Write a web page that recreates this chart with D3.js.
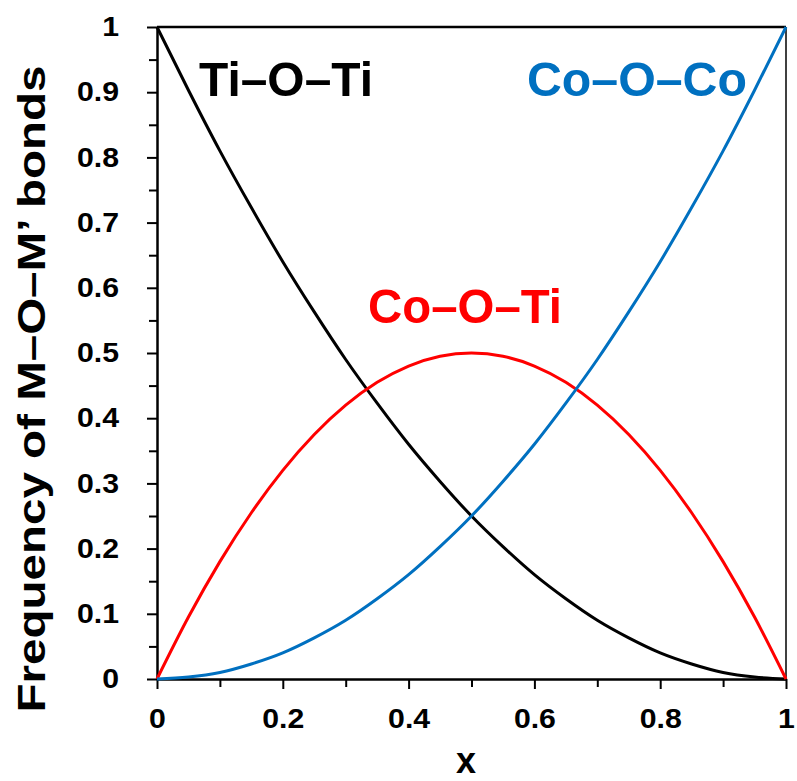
<!DOCTYPE html>
<html>
<head>
<meta charset="utf-8">
<script src="https://cdn.jsdelivr.net/npm/d3@7"></script>
<style>
  body { margin: 0; background: #fff; }
  text { font-family: "Liberation Sans", Arial, sans-serif; font-weight: bold; }
</style>
</head>
<body>
<div id="chart"></div>
<script>
// Values
const xValues = [0, 0.05, 0.1, 0.15, 0.2, 0.25, 0.3, 0.35, 0.4, 0.45, 0.5,
                 0.55, 0.6, 0.65, 0.7, 0.75, 0.8, 0.85, 0.9, 0.95, 1];
const tiOTi = [1, 0.903, 0.81, 0.723, 0.64, 0.563, 0.49, 0.423, 0.36, 0.303, 0.25,
               0.203, 0.16, 0.123, 0.09, 0.063, 0.04, 0.023, 0.01, 0.003, 0];
const coOTi = [0, 0.095, 0.18, 0.255, 0.32, 0.375, 0.42, 0.455, 0.48, 0.495, 0.5,
               0.495, 0.48, 0.455, 0.42, 0.375, 0.32, 0.255, 0.18, 0.095, 0];
const coOCo = [0, 0.003, 0.01, 0.023, 0.04, 0.063, 0.09, 0.123, 0.16, 0.203, 0.25,
               0.303, 0.36, 0.423, 0.49, 0.563, 0.64, 0.723, 0.81, 0.903, 1];
const xTicks = [0, 0.2, 0.4, 0.6, 0.8, 1];
const yTicks = [0, 0.1, 0.2, 0.3, 0.4, 0.5, 0.6, 0.7, 0.8, 0.9, 1];
const seriesNames = ["Ti\u2013O\u2013Ti", "Co\u2013O\u2013Ti", "Co\u2013O\u2013Co"];
const xTitle = "x";
const yTitle = "Frequency  of  M\u2013O\u2013M\u2019  bonds";

const width = 797, height = 781;
const margin = { top: 27, right: 11, bottom: 102, left: 157 };

const svg = d3.select("#chart").append("svg")
  .attr("width", width)
  .attr("height", height);

const x = d3.scaleLinear().domain([0, 1]).range([margin.left, width - margin.right]);
const y = d3.scaleLinear().domain([0, 1]).range([height - margin.bottom, margin.top]);

// frame: top and right borders
svg.append("line")
  .attr("x1", x(0)).attr("x2", x(1))
  .attr("y1", y(1)).attr("y2", y(1))
  .style("stroke", "#000").style("stroke-width", 2.5);
svg.append("line")
  .attr("x1", x(1)).attr("x2", x(1))
  .attr("y1", y(1)).attr("y2", y(0))
  .style("stroke", "#000").style("stroke-width", 1.5);

// minor ticks
const xMinor = d3.range(0.1, 1, 0.2);
const yMinor = d3.range(0.05, 1, 0.1);

svg.append("g")
  .attr("transform", `translate(0,${y(0)})`)
  .call(d3.axisBottom(x).tickValues(xMinor).tickSize(8).tickFormat(""))
  .call(g => g.select(".domain").remove())
  .selectAll("line").style("stroke-width", 2);

svg.append("g")
  .attr("transform", `translate(${x(0)},0)`)
  .call(d3.axisLeft(y).tickValues(yMinor).tickSize(8).tickFormat(""))
  .call(g => g.select(".domain").remove())
  .selectAll("line").style("stroke-width", 2);

// major axes
const xAxis = svg.append("g")
  .attr("transform", `translate(0,${y(0)})`)
  .call(d3.axisBottom(x).tickValues(xTicks).tickSize(10).tickSizeOuter(0).tickPadding(20)
    .tickFormat(d3.format("")));
xAxis.select(".domain").style("stroke-width", 2.5);
xAxis.selectAll("line").style("stroke-width", 2);
xAxis.selectAll("text").style("font-size", "27px").attr("fill", "#000");

const yAxis = svg.append("g")
  .attr("transform", `translate(${x(0)},0)`)
  .call(d3.axisLeft(y).tickValues(yTicks).tickSize(10).tickSizeOuter(0).tickPadding(28)
    .tickFormat(d3.format("")));
yAxis.select(".domain").style("stroke-width", 2.5);
yAxis.selectAll("line").style("stroke-width", 2);
yAxis.selectAll("text").style("font-size", "27px").attr("fill", "#000");

// widen tick labels a little, as in the picture
svg.selectAll(".tick text").each(function () {
  const w = this.getComputedTextLength();
  d3.select(this).attr("textLength", w * 1.12).attr("lengthAdjust", "spacingAndGlyphs");
});
xAxis.selectAll("text").attr("dy", "0.71em");

// curves
const line = d3.line()
  .x((d, i) => x(xValues[i]))
  .y(d => y(d))
  .curve(d3.curveMonotoneX);

const series = [
  { name: seriesNames[0], values: tiOTi, color: "#000000" },
  { name: seriesNames[1], values: coOTi, color: "#FF0000" },
  { name: seriesNames[2], values: coOCo, color: "#0070C0" }
];

svg.append("g").selectAll("path")
  .data(series)
  .enter().append("path")
  .attr("d", d => line(d.values))
  .style("fill", "none")
  .style("stroke", d => d.color)
  .style("stroke-width", 3);

// curve labels
const labelPos = [
  { x: 199, y: 96, w: 174 },
  { x: 368, y: 323, w: 194 },
  { x: 527, y: 96, w: 220 }
];
svg.append("g").selectAll("text")
  .data(series)
  .enter().append("text")
  .attr("x", (d, i) => labelPos[i].x)
  .attr("y", (d, i) => labelPos[i].y)
  .attr("textLength", (d, i) => labelPos[i].w)
  .attr("lengthAdjust", "spacingAndGlyphs")
  .style("font-size", "49px")
  .style("fill", d => d.color)
  .text(d => d.name);

// axis titles
svg.append("text")
  .attr("x", 466)
  .attr("y", 773)
  .style("text-anchor", "middle")
  .style("font-size", "36px")
  .text(xTitle);

svg.append("text")
  .attr("transform", "translate(45,389) rotate(-90)")
  .attr("textLength", 647)
  .attr("lengthAdjust", "spacingAndGlyphs")
  .style("text-anchor", "middle")
  .style("font-size", "39px")
  .text(yTitle);
</script>
</body>
</html>
